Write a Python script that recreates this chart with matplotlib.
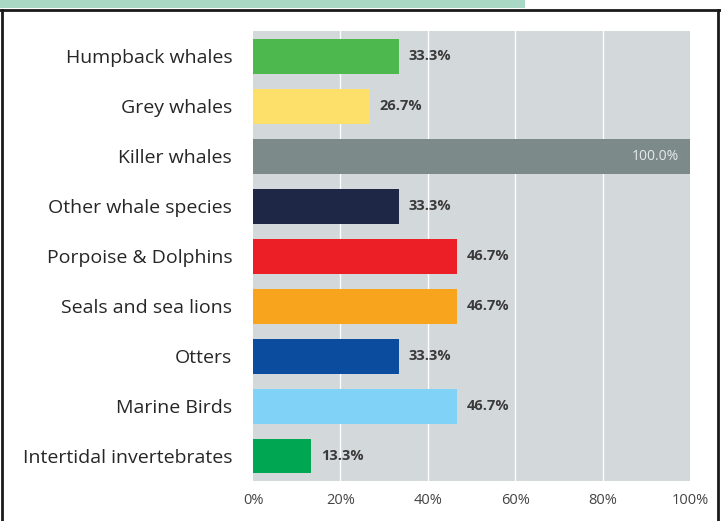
import matplotlib.pyplot as plt
from matplotlib.lines import Line2D
from matplotlib.patches import Rectangle

categories = ['Humpback whales', 'Grey whales', 'Killer whales', 'Other whale species',
              'Porpoise & Dolphins', 'Seals and sea lions', 'Otters', 'Marine Birds',
              'Intertidal invertebrates']
values = [33.3, 26.7, 100.0, 33.3, 46.7, 46.7, 33.3, 46.7, 13.3]
colors = ['#4cb84e', '#fde06a', '#7d8a8a', '#1e2746', '#ec1f27', '#f8a51d',
          '#0b4c9f', '#80d2f6', '#00a651']
ticks = [0, 20, 40, 60, 80, 100]
tick_labels = ['0%', '20%', '40%', '60%', '80%', '100%']

fig = plt.figure(figsize=(7.21, 5.21), dpi=100)
ax = fig.add_axes([253 / 721, 1 - 481 / 521, 437 / 721, 450 / 521])
ax.set_facecolor('#d3d8da')

y = list(range(len(categories)))
ax.barh(y, values, height=0.7, color=colors, zorder=2)
ax.set_ylim(len(categories) - 0.5, -0.5)
ax.set_xlim(0, 100)

for t in ticks[1:-1]:
    ax.axvline(t, color='white', lw=1, zorder=1)

for yi, v in zip(y, values):
    if v >= 90:
        ax.text(v - 2.5, yi, f'{v:.1f}%', ha='right', va='center', fontsize=10,
                color='#e8eaea', family='Open Sans')
    else:
        ax.text(v + 2.3, yi, f'{v:.1f}%', ha='left', va='center', fontsize=10.5,
                fontweight='bold', color='#3a3a3a', family='Open Sans')

ax.set_yticks(y)
ax.set_yticklabels(categories, fontsize=14, color='#262626', family='Open Sans')
ax.set_xticks(ticks)
ax.set_xticklabels(tick_labels, fontsize=10.5, color='#444444', family='Open Sans')
ax.tick_params(axis='both', length=0)
ax.tick_params(axis='y', pad=15)
ax.tick_params(axis='x', pad=9)
for s in ax.spines.values():
    s.set_visible(False)

# banner and frame
fig.add_artist(Rectangle((0, 1 - 8 / 521), 525 / 721, 8 / 521, transform=fig.transFigure,
                         color='#a9d9c4', lw=0))
fig.add_artist(Line2D([0, 1], [1 - 10 / 521, 1 - 10 / 521], transform=fig.transFigure,
                      color='#1a1a1a', lw=2))
fig.add_artist(Line2D([2 / 721, 2 / 721], [0, 1 - 10 / 521], transform=fig.transFigure,
                      color='#1a1a1a', lw=2))
fig.add_artist(Line2D([718 / 721, 718 / 721], [0, 1 - 10 / 521], transform=fig.transFigure,
                      color='#1a1a1a', lw=2))

fig.savefig('out.png', dpi=100)
